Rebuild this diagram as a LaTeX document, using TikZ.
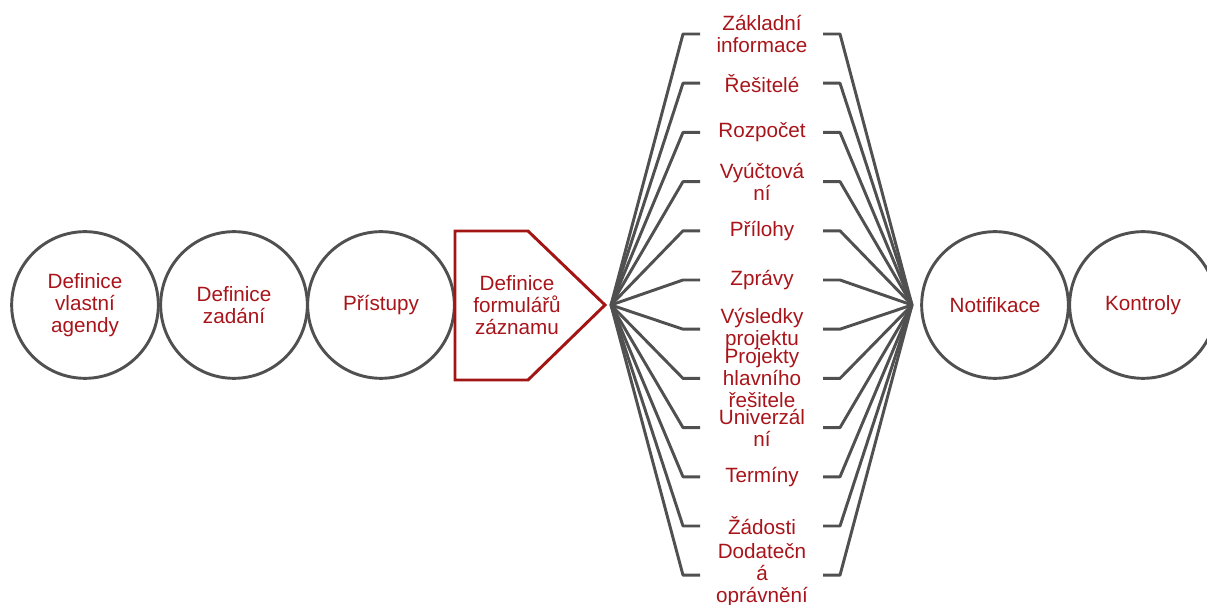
\documentclass[tikz,border=0pt]{standalone}
\usepackage{fontspec}
\setmainfont{Liberation Sans}
\definecolor{txtred}{HTML}{A8141A}
\definecolor{brdred}{HTML}{A31515}
\definecolor{gry}{HTML}{505050}
\tikzset{
  px/.style={x=0.75pt,y=-0.75pt},
  lbl/.style={text=txtred,font=\fontsize{15.5pt}{16.5pt}\selectfont,align=center,inner sep=0pt},
  circ/.style={draw=gry,line width=2.2pt,circle,minimum size=110pt,inner sep=0pt,
               text=txtred,font=\fontsize{15.5pt}{16.5pt}\selectfont,align=center},
  conn/.style={draw=gry,line width=2.2pt,line join=round},
}
\begin{document}
\begin{tikzpicture}[px]
\useasboundingbox (0,0) rectangle (1207,605);
\node[circ] (c1) at (85,305) {Definice\\vlastní\\agendy};
\node[circ] (c2) at (234,305) {Definice\\zadání};
\node[circ] (c3) at (381,305) {Přístupy};
\draw[draw=brdred,line width=2.2pt,line join=miter] (455,231) -- (528,231) -- (605,305) -- (528,380) -- (455,380) -- cycle;
\node[lbl] (pent) at (517,305) {Definice\\formulářů\\záznamu};
\coordinate (fl) at (611,305);
\coordinate (fr) at (912,305);
\node[circ] (c4) at (995,305) {Notifikace};
\node[circ] (c5) at (1143,305) {Kontroly};
\foreach \i/\t in {0/{Základní\\informace},1/{Řešitelé},2/{Rozpočet},3/{Vyúčtová\\ní},4/{Přílohy},5/{Zprávy},6/{Výsledky\\projektu},7/{Projekty\\hlavního\\řešitele},8/{Univerzál\\ní},9/{Termíny},10/{Žádosti},11/{Dodatečn\\á\\oprávnění}}{
  \pgfmathsetmacro{\yy}{34+49.2*\i}
  \node[lbl] (it\i) at (762,\yy) {\t};
  \coordinate (la\i) at (700,\yy);
  \coordinate (lb\i) at (683,\yy);
  \coordinate (ra\i) at (823,\yy);
  \coordinate (rb\i) at (840,\yy);
  \draw[conn] (la\i) -- (lb\i) -- (fl);
  \draw[conn] (ra\i) -- (rb\i) -- (fr);
}
\end{tikzpicture}
\end{document}
